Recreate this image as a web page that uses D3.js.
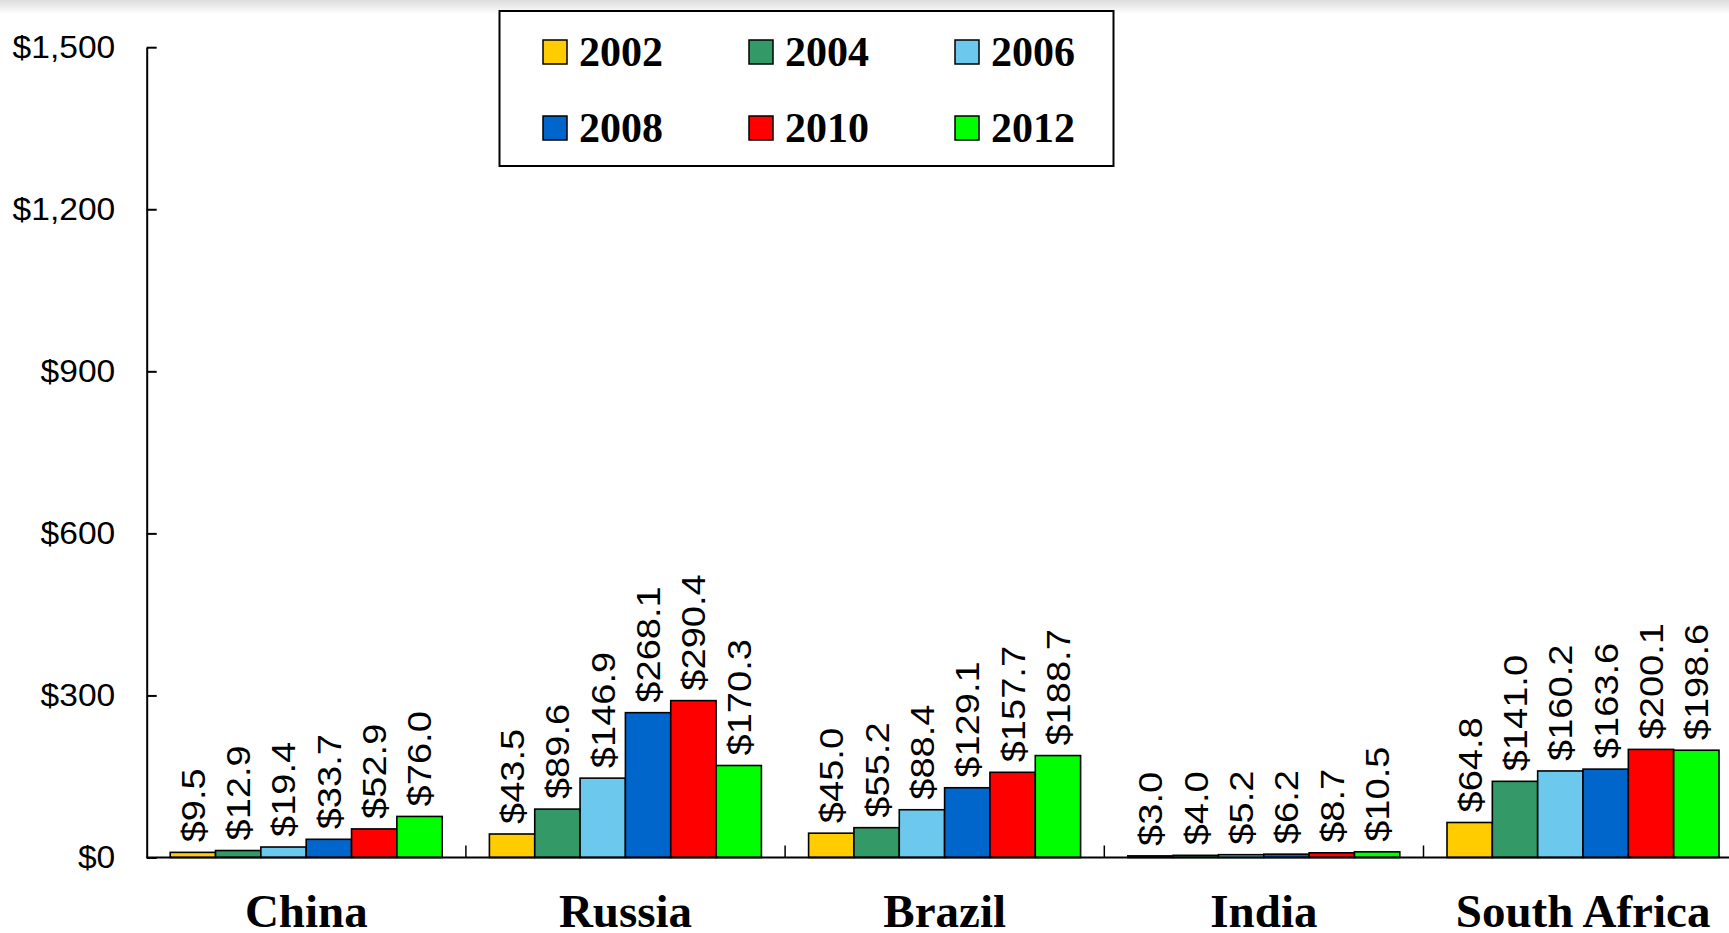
<!DOCTYPE html>
<html>
<head>
<meta charset="utf-8">
<script src="https://cdn.jsdelivr.net/npm/d3@7"></script>
<style>
  html, body { margin: 0; padding: 0; background: #fff; overflow: hidden; }
  svg { display: block; }
</style>
</head>
<body>
<svg id="chart" width="1729" height="933"></svg>
<script>
// BRICS values by year
const categories = ["China", "Russia", "Brazil", "India", "South Africa"];
const years = ["2002", "2004", "2006", "2008", "2010", "2012"];
const values2002 = [9.5, 43.5, 45.0, 3.0, 64.8];
const values2004 = [12.9, 89.6, 55.2, 4.0, 141.0];
const values2006 = [19.4, 146.9, 88.4, 5.2, 160.2];
const values2008 = [33.7, 268.1, 129.1, 6.2, 163.6];
const values2010 = [52.9, 290.4, 157.7, 8.7, 200.1];
const values2012 = [76.0, 170.3, 188.7, 10.5, 198.6];
const yTicks = [0, 300, 600, 900, 1200, 1500];
const colors = ["#FFCC00", "#339966", "#6CC8EC", "#0066CC", "#FF0000", "#00FF00"];

const seriesValues = [values2002, values2004, values2006, values2008, values2010, values2012];

const svg = d3.select("#chart");
const W = 1729, H = 933;

// light shading along the top edge
const defs = svg.append("defs");
const grad = defs.append("linearGradient").attr("id", "topShade")
  .attr("x1", 0).attr("y1", 0).attr("x2", 0).attr("y2", 1);
grad.append("stop").attr("offset", "0%").attr("stop-color", "#dcdcdc");
grad.append("stop").attr("offset", "100%").attr("stop-color", "#ffffff");
svg.append("rect").attr("x", 0).attr("y", 0).attr("width", W).attr("height", 14)
  .attr("fill", "url(#topShade)");

const x0 = 146.7, yTop = 47.2, yBase = 857.5;
const step = 319.2;

const x = d3.scaleBand().domain(categories).range([x0, x0 + step * categories.length]).padding(0);
const xi = d3.scaleBand().domain(years).range([23.5, 295.5]).padding(0);
const y = d3.scaleLinear().domain([0, 1500]).range([yBase, yTop]);

// bars
const groups = svg.append("g").selectAll("g")
  .data(categories)
  .join("g")
  .attr("transform", c => `translate(${x(c)},0)`);

const barData = (c, ci) => years.map((yr, si) => ({ year: yr, si, value: seriesValues[si][ci] }));

groups.each(function (c, ci) {
  const g = d3.select(this);
  const d = barData(c, ci);
  g.selectAll("rect")
    .data(d)
    .join("rect")
    .attr("x", b => xi(b.year))
    .attr("y", b => y(b.value))
    .attr("width", xi.bandwidth())
    .attr("height", b => yBase - y(b.value))
    .attr("fill", b => colors[b.si])
    .attr("stroke", "#000")
    .attr("stroke-width", 1.6);

  // rotated value labels, slightly stretched along their length
  g.selectAll("text.val")
    .data(d)
    .join("text")
    .attr("class", "val")
    .attr("transform", b => `translate(${xi(b.year) + xi.bandwidth() / 2},${y(b.value) - 10}) rotate(-90) scale(1.12,1)`)
    .attr("dy", "0.35em")
    .attr("font-family", "'Liberation Sans', Arial, sans-serif")
    .attr("font-size", 34)
    .attr("fill", "#000")
    .text(b => "$" + b.value.toFixed(1));
});

// y axis
const yAxis = d3.axisLeft(y)
  .tickValues(yTicks)
  .tickSizeInner(-10)
  .tickSizeOuter(0)
  .tickPadding(0)
  .tickFormat(v => "$" + d3.format(",")(v));

const ya = svg.append("g").attr("transform", `translate(${x0},0)`).call(yAxis);
ya.select(".domain").attr("stroke", "#000").attr("stroke-width", 2);
ya.selectAll(".tick line").attr("stroke", "#000").attr("stroke-width", 2);
ya.selectAll(".tick text")
  .attr("x", 0)
  .attr("dy", "0.34em")
  .attr("text-anchor", "end")
  .attr("transform", "translate(-31.5,0) scale(1.1,1)")
  .attr("font-family", "'Liberation Sans', Arial, sans-serif")
  .attr("font-size", 30.5)
  .attr("fill", "#000");

// x axis baseline and category separators
svg.append("line")
  .attr("x1", x0).attr("x2", W)
  .attr("y1", yBase).attr("y2", yBase)
  .attr("stroke", "#000").attr("stroke-width", 2);

svg.append("g").selectAll("line")
  .data(categories.slice(1))
  .join("line")
  .attr("x1", c => x(c)).attr("x2", c => x(c))
  .attr("y1", yBase).attr("y2", yBase - 12)
  .attr("stroke", "#000").attr("stroke-width", 1.5);

// category labels
svg.append("g").selectAll("text")
  .data(categories)
  .join("text")
  .attr("x", c => x(c) + x.bandwidth() / 2)
  .attr("y", 927)
  .attr("text-anchor", "middle")
  .attr("font-family", "'Liberation Serif', 'Times New Roman', serif")
  .attr("font-weight", "bold")
  .attr("font-size", 47)
  .attr("fill", "#000")
  .text(c => c);

// legend
const legend = svg.append("g");
legend.append("rect")
  .attr("x", 499.5).attr("y", 11)
  .attr("width", 614).attr("height", 155)
  .attr("fill", "#fff").attr("stroke", "#000").attr("stroke-width", 2);

const legItems = legend.selectAll("g.item")
  .data(years)
  .join("g")
  .attr("class", "item")
  .attr("transform", (yr, i) => `translate(${543 + (i % 3) * 206},${i < 3 ? 40 : 116})`);

legItems.append("rect")
  .attr("x", 0).attr("y", 0)
  .attr("width", 24).attr("height", 24)
  .attr("fill", (yr, i) => colors[i])
  .attr("stroke", "#000").attr("stroke-width", 1.5);

legItems.append("text")
  .attr("x", 36).attr("y", 26)
  .attr("font-family", "'Liberation Serif', 'Times New Roman', serif")
  .attr("font-weight", "bold")
  .attr("font-size", 42)
  .attr("fill", "#000")
  .text(yr => yr);
</script>
</body>
</html>
